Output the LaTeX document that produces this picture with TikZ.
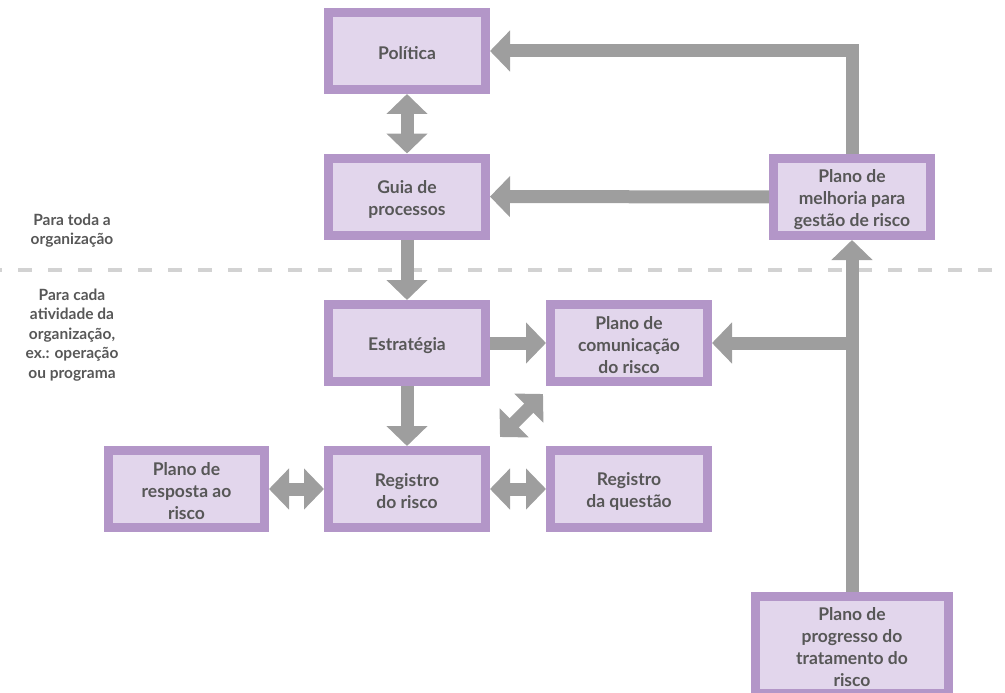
\documentclass[tikz,border=0pt]{standalone}
\usepackage{fontspec}
\setmainfont{Lato}
\usetikzlibrary{arrows.meta}
\definecolor{boxfill}{HTML}{E2D6EC}
\definecolor{boxline}{HTML}{B396C8}
\definecolor{arrgray}{HTML}{9E9E9E}
\definecolor{txtgray}{HTML}{575757}
\definecolor{dashgray}{HTML}{D2D2D2}
\tikzset{
  box/.style={draw=boxline, fill=boxfill, line width=9pt, minimum width=157pt, minimum height=77pt,
    inner sep=0pt},
  btxt/.style={align=center, text=txtgray, inner sep=0pt, yshift=-2.5pt,
    font=\fontsize{17.5}{22}\selectfont\bfseries},
  side/.style={align=center, text=txtgray, font=\fontsize{15.5}{19.5}\selectfont\bfseries},
  fat/.style={draw=arrgray, line width=13pt, -{Triangle[width=40pt,length=20pt]}},
  fatboth/.style={draw=arrgray, line width=13pt, {Triangle[width=40pt,length=20pt]}-{Triangle[width=40pt,length=20pt]}},
}
\begin{document}
\begin{tikzpicture}[x=1pt,y=-1pt]
\useasboundingbox (0,0) rectangle (1005,693);
% dashed separator
\draw[dashgray, line width=4pt, dash pattern=on 14pt off 16pt, dash phase=-18pt] (0,270) -- (1005,270);
% side labels
\node[side] (lab1) at (72,230.5) {Para toda a\\organização};
\node[side] (lab2) at (72,335) {Para cada\\atividade da\\organização,\\ex.: operação\\ou programa};
% boxes
\node[box] (pol) at (407,51) {};
\node[box] (guia) at (407,196.5) {};
\node[box] (estr) at (407,343) {};
\node[box] (reg) at (407,489) {};
\node[box, minimum width=156pt] (resp) at (186.5,489) {};
\node[box] (com) at (629,343) {};
\node[box] (quest) at (629,489) {};
\node[box] (melh) at (852,197) {};
\node[box, minimum width=193pt, minimum height=97pt] (prog) at (852,645) {};
% box texts
\node[btxt] (pol-t) at (pol.center) {Política};
\node[btxt] (guia-t) at (guia.center) {Guia de\\processos};
\node[btxt] (estr-t) at (estr.center) {Estratégia};
\node[btxt] (reg-t) at (reg.center) {Registro\\do risco};
\node[btxt] (resp-t) at (resp.center) {Plano de\\resposta ao\\risco};
\node[btxt] (com-t) at (com.center) {Plano de\\comunicação\\do risco};
\node[btxt] (quest-t) at (quest.center) {Registro\\da questão};
\node[btxt] (melh-t) at (melh.center) {Plano de\\melhoria para\\gestão de risco};
\node[btxt] (prog-t) at (prog.center) {Plano de\\progresso do\\tratamento do\\risco};
% arrows
\draw[fatboth] (pol) -- (guia);
\draw[fat] (guia) -- (estr);
\draw[fat] (estr) -- (reg);
\draw[fat] (estr) -- (com);
\draw[fatboth] (resp) -- (reg);
\draw[fatboth] (reg) -- (quest);
\coordinate (d1) at (500,437);
\coordinate (d2) at (543,394);
\draw[fatboth] (d1) -- (d2);
\draw[fat] (melh) -- (guia);
\draw[fat] (melh.north) |- (pol.east);
\draw[fat] (prog.north) -- (melh.south);
\draw[fat] (prog.north) |- (com.east);
\end{tikzpicture}
\end{document}
